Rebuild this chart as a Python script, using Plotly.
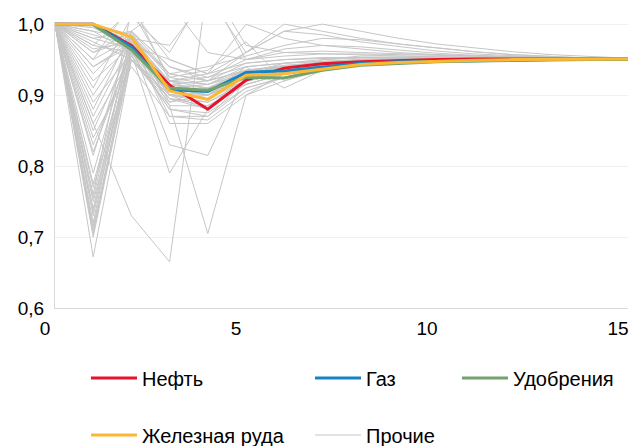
import plotly.graph_objects as go

x_vals = list(range(16))

oil = [1.0, 1.0, 0.970, 0.914, 0.880, 0.921, 0.938, 0.944, 0.947, 0.949, 0.950, 0.951, 0.951, 0.951, 0.951, 0.951]
gas = [1.0, 1.0, 0.968, 0.908, 0.905, 0.932, 0.934, 0.940, 0.945, 0.947, 0.948, 0.949, 0.950, 0.950, 0.950, 0.950]
fert = [1.0, 0.999, 0.964, 0.910, 0.907, 0.925, 0.924, 0.935, 0.942, 0.945, 0.947, 0.948, 0.949, 0.949, 0.950, 0.950]
iron = [1.0, 1.0, 0.982, 0.906, 0.894, 0.928, 0.930, 0.937, 0.943, 0.946, 0.948, 0.949, 0.950, 0.950, 0.951, 0.951]

others_values = [
    [1.0, 0.672, 0.95, 0.90, 0.91, 0.93, 0.94, 0.945, 0.948, 0.95, 0.951, 0.951, 0.951, 0.951, 0.951, 0.951],
    [1.0, 0.70, 0.96, 0.91, 0.90, 0.925, 0.935, 0.942, 0.946, 0.948, 0.949, 0.950, 0.950, 0.950, 0.950, 0.950],
    [1.0, 0.705, 0.97, 0.92, 0.915, 0.93, 0.94, 0.944, 0.947, 0.949, 0.95, 0.95, 0.95, 0.95, 0.95, 0.95],
    [1.0, 0.71, 0.95, 0.89, 0.90, 0.92, 0.93, 0.94, 0.945, 0.947, 0.948, 0.949, 0.95, 0.95, 0.95, 0.95],
    [1.0, 0.715, 0.96, 0.905, 0.895, 0.925, 0.935, 0.943, 0.947, 0.949, 0.95, 0.95, 0.95, 0.95, 0.95, 0.95],
    [1.0, 0.72, 0.98, 0.93, 0.92, 0.935, 0.94, 0.946, 0.948, 0.949, 0.95, 0.95, 0.95, 0.95, 0.95, 0.95],
    [1.0, 0.73, 0.965, 0.90, 0.89, 0.915, 0.93, 0.94, 0.944, 0.947, 0.948, 0.949, 0.95, 0.95, 0.95, 0.95],
    [1.0, 0.735, 0.975, 0.915, 0.905, 0.93, 0.938, 0.944, 0.947, 0.949, 0.95, 0.95, 0.95, 0.95, 0.95, 0.95],
    [1.0, 0.74, 0.99, 0.94, 0.925, 0.94, 0.945, 0.948, 0.95, 0.951, 0.951, 0.951, 0.951, 0.951, 0.951, 0.951],
    [1.0, 0.75, 0.955, 0.88, 0.87, 0.91, 0.925, 0.935, 0.942, 0.946, 0.948, 0.949, 0.95, 0.95, 0.95, 0.95],
    [1.0, 0.755, 0.985, 0.925, 0.915, 0.935, 0.942, 0.946, 0.948, 0.95, 0.95, 0.95, 0.95, 0.95, 0.95, 0.95],
    [1.0, 0.76, 1.02, 0.95, 0.93, 0.945, 0.95, 0.952, 0.953, 0.953, 0.952, 0.952, 0.952, 0.951, 0.951, 0.951],
    [1.0, 0.77, 0.95, 0.895, 0.885, 0.915, 0.93, 0.94, 0.945, 0.948, 0.949, 0.95, 0.95, 0.95, 0.95, 0.95],
    [1.0, 0.775, 0.97, 0.91, 0.90, 0.925, 0.935, 0.943, 0.947, 0.949, 0.95, 0.95, 0.95, 0.95, 0.95, 0.95],
    [1.0, 0.79, 0.98, 0.92, 0.91, 0.93, 0.94, 0.945, 0.948, 0.95, 0.95, 0.95, 0.95, 0.95, 0.95, 0.95],
    [1.0, 0.86, 0.73, 0.665, 1.06, 0.97, 0.96, 0.958, 0.956, 0.955, 0.954, 0.953, 0.952, 0.952, 0.951, 0.951],
    [1.0, 0.815, 0.99, 0.93, 0.92, 0.935, 0.94, 0.946, 0.948, 0.95, 0.95, 0.95, 0.95, 0.95, 0.95, 0.95],
    [1.0, 0.82, 0.965, 0.90, 0.895, 0.92, 0.932, 0.942, 0.946, 0.948, 0.949, 0.95, 0.95, 0.95, 0.95, 0.95],
    [1.0, 0.83, 0.96, 0.79, 0.88, 0.92, 0.93, 0.94, 0.945, 0.948, 0.949, 0.95, 0.95, 0.95, 0.95, 0.95],
    [1.0, 0.84, 0.94, 0.87, 0.87, 0.92, 0.93, 0.94, 0.945, 0.948, 0.949, 0.95, 0.95, 0.95, 0.95, 0.95],
    [1.0, 0.85, 0.97, 0.83, 0.815, 0.93, 0.94, 0.945, 0.948, 0.95, 0.95, 0.95, 0.95, 0.95, 0.95, 0.95],
    [1.0, 0.86, 0.955, 0.895, 0.88, 0.93, 0.94, 0.945, 0.948, 0.95, 0.95, 0.95, 0.95, 0.95, 0.95, 0.95],
    [1.0, 0.87, 0.975, 0.885, 0.705, 0.90, 0.93, 0.94, 0.945, 0.948, 0.949, 0.95, 0.95, 0.95, 0.95, 0.95],
    [1.0, 0.88, 0.99, 0.90, 0.88, 0.92, 0.93, 0.94, 0.945, 0.948, 0.949, 0.95, 0.95, 0.95, 0.95, 0.95],
    [1.0, 0.89, 0.96, 0.92, 0.90, 0.94, 0.91, 0.935, 0.944, 0.947, 0.949, 0.95, 0.95, 0.95, 0.95, 0.95],
    [1.0, 0.90, 0.98, 0.89, 0.91, 0.93, 0.945, 0.95, 0.952, 0.952, 0.952, 0.951, 0.951, 0.951, 0.951, 0.951],
    [1.0, 0.91, 1.01, 0.96, 1.05, 0.95, 0.96, 0.962, 0.96, 0.958, 0.956, 0.955, 0.954, 0.953, 0.952, 0.952],
    [1.0, 0.92, 0.97, 0.905, 0.90, 0.93, 0.94, 0.946, 0.949, 0.95, 0.95, 0.95, 0.95, 0.95, 0.95, 0.95],
    [1.0, 0.93, 0.985, 0.915, 0.91, 0.935, 0.94, 0.945, 0.948, 0.95, 0.95, 0.95, 0.95, 0.95, 0.95, 0.95],
    [1.0, 0.94, 0.975, 0.87, 0.865, 0.905, 0.925, 0.937, 0.943, 0.946, 0.948, 0.949, 0.95, 0.95, 0.95, 0.95],
    [1.0, 0.94, 0.97, 0.95, 0.93, 1.0, 0.98, 0.97, 0.965, 0.96, 0.957, 0.955, 0.953, 0.952, 0.951, 0.951],
    [1.0, 0.95, 1.03, 0.92, 0.93, 0.96, 1.0, 0.99, 0.98, 0.972, 0.966, 0.961, 0.957, 0.954, 0.952, 0.951],
    [1.0, 0.95, 0.98, 0.86, 0.86, 0.90, 0.92, 0.935, 0.942, 0.946, 0.948, 0.949, 0.95, 0.95, 0.95, 0.95],
    [1.0, 0.96, 0.98, 0.91, 0.905, 0.93, 0.935, 0.944, 0.947, 0.949, 0.95, 0.95, 0.95, 0.95, 0.95, 0.95],
    [1.0, 0.96, 0.99, 1.03, 0.96, 0.95, 0.955, 0.958, 0.958, 0.957, 0.955, 0.954, 0.953, 0.952, 0.951, 0.951],
    [1.0, 0.965, 0.975, 0.90, 0.895, 0.925, 0.935, 0.942, 0.946, 0.948, 0.949, 0.95, 0.95, 0.95, 0.95, 0.95],
    [1.0, 0.97, 0.96, 0.895, 0.89, 0.92, 0.93, 0.94, 0.945, 0.948, 0.949, 0.95, 0.95, 0.95, 0.95, 0.95],
    [1.0, 0.97, 1.02, 0.925, 0.935, 0.975, 0.92, 0.94, 0.946, 0.949, 0.95, 0.951, 0.951, 0.951, 0.951, 0.951],
    [1.0, 0.975, 0.95, 0.885, 0.885, 0.915, 0.93, 0.94, 0.944, 0.947, 0.949, 0.95, 0.95, 0.95, 0.95, 0.95],
    [1.0, 0.98, 0.965, 0.91, 0.915, 0.94, 0.945, 0.948, 0.95, 0.951, 0.951, 0.951, 0.951, 0.951, 0.951, 0.951],
    [1.0, 0.98, 0.99, 0.94, 0.92, 0.96, 0.99, 1.0, 0.99, 0.98, 0.972, 0.966, 0.961, 0.957, 0.954, 0.952],
    [1.0, 0.985, 0.97, 0.90, 0.90, 0.935, 0.93, 0.95, 0.955, 0.955, 0.954, 0.953, 0.952, 0.952, 0.951, 0.951],
    [1.0, 0.99, 0.98, 0.97, 1.04, 0.96, 0.99, 0.985, 0.975, 0.968, 0.962, 0.958, 0.955, 0.953, 0.952, 0.951],
    [1.0, 0.99, 0.96, 0.88, 0.875, 0.91, 0.925, 0.938, 0.944, 0.947, 0.949, 0.95, 0.95, 0.95, 0.95, 0.95],
    [1.0, 0.995, 0.97, 0.915, 0.92, 0.945, 0.95, 0.953, 0.953, 0.953, 0.952, 0.952, 0.951, 0.951, 0.951, 0.951],
    [1.0, 1.0, 0.975, 0.92, 0.925, 0.95, 0.965, 0.97, 0.968, 0.963, 0.959, 0.956, 0.954, 0.953, 0.952, 0.951],
    [1.0, 1.0, 0.985, 0.93, 0.94, 0.955, 0.97, 0.98, 0.978, 0.972, 0.966, 0.961, 0.957, 0.954, 0.952, 0.951],
]

series_names = ["Нефть", "Газ", "Удобрения", "Железная руда"]
others_name = "Прочие"
x_ticks = [0, 5, 10, 15]
y_ticks = [0.6, 0.7, 0.8, 0.9, 1.0]

W, H = 629, 446
ML, MR, MT, MB = 55, 1, 22, 138
PW, PH = W - ML - MR, H - MT - MB
FONT = "Liberation Sans, Arial, sans-serif"
colors = ["#E8132B", "#1683C3", "#72A36E", "#FDB833"]
grey = "#C6C6C6"
ITEM_W = 46

fig = go.Figure()

for i, vals in enumerate(others_values):
    fig.add_trace(go.Scatter(
        x=x_vals, y=vals, mode="lines", name=others_name,
        line=dict(color=grey, width=1), legendgroup="others",
        showlegend=(i == 0), legend="legend5", hoverinfo="skip"))

legend_ids = ["legend", "legend2", "legend3", "legend4"]
for name, vals, col, lg in zip(series_names, [oil, gas, fert, iron], colors, legend_ids):
    fig.add_trace(go.Scatter(
        x=x_vals, y=vals, mode="lines", name=name,
        line=dict(color=col, width=3), legend=lg))

# legend positions (left px of legend text, center y px)
leg_pos = {"legend": (142, 378), "legend2": (366, 378), "legend3": (513, 378),
           "legend4": (142, 435), "legend5": (366, 435)}
leg_layout = {}
for k, (px, py) in leg_pos.items():
    left = px - ITEM_W - 10
    leg_layout[k] = dict(
        x=(left - ML) / PW, y=(MT + PH - py) / PH, xref="paper", yref="paper",
        xanchor="left", yanchor="middle", orientation="v",
        bgcolor="rgba(0,0,0,0)", borderwidth=0, itemwidth=ITEM_W,
        font=dict(family=FONT, size=20, color="#000000"))

fig.update_layout(
    width=W, height=H, showlegend=True,
    margin=dict(l=ML, r=MR, t=MT, b=MB, autoexpand=False),
    plot_bgcolor="white", paper_bgcolor="white",
    separators=", ",
    font=dict(family=FONT, size=19, color="#000000"),
    xaxis=dict(range=[0, 15], tickvals=x_ticks, ticks="", showgrid=False,
               zeroline=False, showline=True, linecolor="#D9D9D9", linewidth=1,
               ticklabelshift=-10, ticklabelstandoff=3, ticklabeloverflow="allow",
               tickfont=dict(family=FONT, size=19, color="#000000")),
    yaxis=dict(range=[0.6, 1.003], tickvals=y_ticks, tickformat=".1f", ticks="",
               showgrid=True, gridcolor="#F0F0F0", gridwidth=1, zeroline=False,
               showline=True, linecolor="#D9D9D9", linewidth=1,
               ticklabelstandoff=6,
               tickfont=dict(family=FONT, size=19, color="#000000")),
    **leg_layout,
)

fig.write_html("out.html", config={"displayModeBar": False},
               post_script="document.body.style.margin='0';")
